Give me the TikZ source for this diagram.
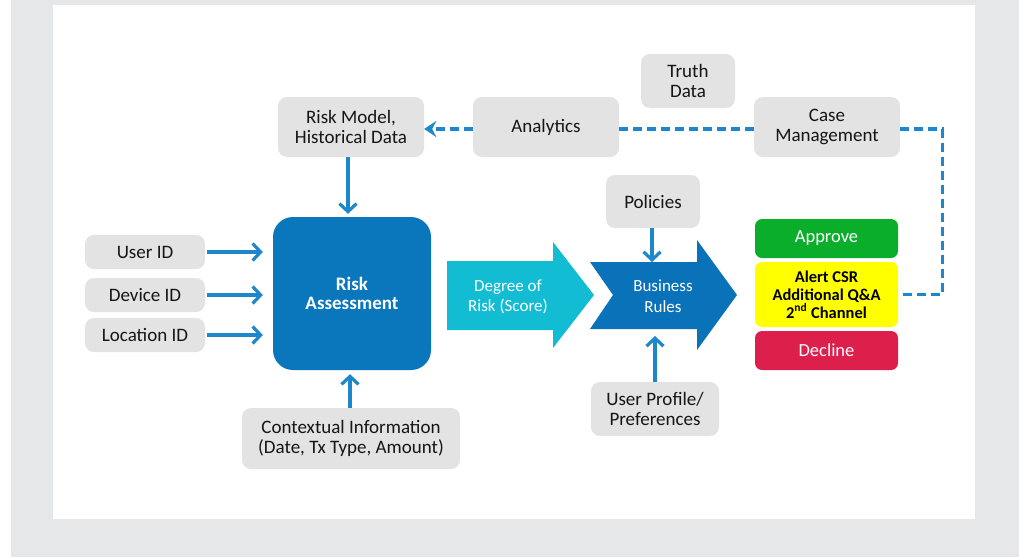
\documentclass[tikz,border=0pt]{standalone}
\usepackage{fontspec}
\setmainfont{Carlito}
\usetikzlibrary{arrows.meta}
\definecolor{bggray}{HTML}{E6E7E9}
\definecolor{boxgray}{HTML}{E3E3E3}
\definecolor{txtdark}{HTML}{151515}
\definecolor{arrowblue}{HTML}{1C87CA}
\definecolor{riskblue}{HTML}{0A77BD}
\definecolor{cyanarrow}{HTML}{12BDD3}
\definecolor{darkarrow}{HTML}{0A72B9}
\definecolor{okgreen}{HTML}{0BAE2A}
\definecolor{alertyellow}{HTML}{FFFF00}
\definecolor{declinered}{HTML}{DC1F4B}
\tikzset{
  gbox/.style={fill=boxgray, rounded corners=9pt, align=center, inner sep=0pt,
    text=txtdark, font=\fontsize{19}{19.5}\selectfont},
  cbox/.style={rounded corners=7pt, align=center, inner sep=0pt,
    minimum width=143pt},
  flow/.style={draw=arrowblue, line width=3.2pt,
    -{Straight Barb[length=8pt,width=17pt]}},
  dashflow/.style={draw=arrowblue, line width=3.2pt, dash pattern=on 9pt off 5pt},
  whitetxt/.style={text=white, align=center, inner sep=0pt}
}
\begin{document}
\begin{tikzpicture}[x=1pt,y=-1pt]
\useasboundingbox (0,0) rectangle (1019,557);
\fill[white] (0,0) rectangle (1019,557);
\fill[bggray] (11,0) rectangle (1019,557);
\fill[white] (53,5) rectangle (975,519);

% gray boxes
\node[gbox, minimum width=94pt, minimum height=54pt] (truth) at (688,81) {Truth\\Data};
\node[gbox, minimum width=146pt, minimum height=60pt] (rm) at (351,127) {Risk Model,\\Historical Data};
\node[gbox, minimum width=146pt, minimum height=60pt] (an) at (546,127) {Analytics};
\node[gbox, minimum width=146pt, minimum height=60pt] (cm) at (827,127) {Case\\Management};
\node[gbox, minimum width=94pt, minimum height=53pt] (pol) at (653,201.5) {Policies};
\node[gbox, minimum width=120pt, minimum height=34pt] (uid) at (145,252) {User ID};
\node[gbox, minimum width=120pt, minimum height=34pt] (did) at (145,295) {Device ID};
\node[gbox, minimum width=120pt, minimum height=34pt] (lid) at (145,335) {Location ID};
\node[gbox, minimum width=218pt, minimum height=61pt] (ctx) at (351,438.5) {Contextual Information\\(Date, Tx Type, Amount)};
\node[gbox, minimum width=128pt, minimum height=54pt] (up) at (655,409) {User Profile/\\Preferences};

% risk assessment
\node[fill=riskblue, rounded corners=20pt, minimum width=158pt, minimum height=153pt,
  inner sep=0pt] (ra) at (352,293.5) {};
\node[whitetxt, font=\fontsize{19}{19}\selectfont\bfseries] (ratxt) at (352,293) {Risk\\Assessment};

% big arrows
\fill[cyanarrow] (447,261) -- (553,261) -- (553,242) -- (594,295) -- (553,348)
  -- (553,330) -- (447,330) -- cycle;
\node[whitetxt, font=\fontsize{17}{20.5}\selectfont] (deg) at (508,297) {Degree of\\Risk (Score)};
\fill[darkarrow] (590,262) -- (697,262) -- (697,240) -- (737,295) -- (697,350)
  -- (697,329) -- (590,329) -- (613,295) -- cycle;
\node[whitetxt, font=\fontsize{17}{20.5}\selectfont] (br) at (663,296) {Business\\Rules};
\coordinate (brtop) at (652,262);
\coordinate (brbot) at (655,336);

% outcome boxes
\node[cbox, fill=okgreen, minimum height=39pt, text=white,
  font=\fontsize{18.5}{19}\selectfont] (ok) at (826.5,238.5) {Approve};
\node[cbox, fill=alertyellow, minimum height=65pt, text=black,
  font=\fontsize{16.5}{18}\selectfont\bfseries] (alert) at (826.5,294.5)
  {Alert CSR\\Additional Q\&A\\2\textsuperscript{nd} Channel};
\node[cbox, fill=declinered, minimum height=39pt, text=white,
  font=\fontsize{18.5}{19}\selectfont] (dec) at (826.5,350.5) {Decline};

% solid connectors
\draw[flow, shorten <=2pt, shorten >=10pt] (uid.east) -- (uid.east -| ra.west);
\draw[flow, shorten <=2pt, shorten >=10pt] (did.east) -- (did.east -| ra.west);
\draw[flow, shorten <=2pt, shorten >=10pt] (lid.east) -- (lid.east -| ra.west);
\draw[flow, shorten >=3pt] ([xshift=-3pt]rm.south) -- ([xshift=-3pt]rm.south |- ra.north);
\draw[flow, shorten >=4pt] ([xshift=-1pt]ctx.north) -- ([xshift=-1pt]ctx.north |- ra.south);
\draw[flow] (pol.south -| brtop) -- (brtop);
\draw[flow] (up.north) -- (brbot);

% dashed connectors
\draw[dashflow, -{Stealth[length=12pt,width=16pt,inset=4pt]}] ([yshift=-2pt]an.west) -- ([yshift=-2pt]rm.east);
\draw[dashflow] ([yshift=-2pt]an.east) -- ([yshift=-2pt]cm.west);
\draw[dashflow] ([yshift=-2pt]cm.east) -- ++(42,0) |- (alert.east);
\end{tikzpicture}
\end{document}
